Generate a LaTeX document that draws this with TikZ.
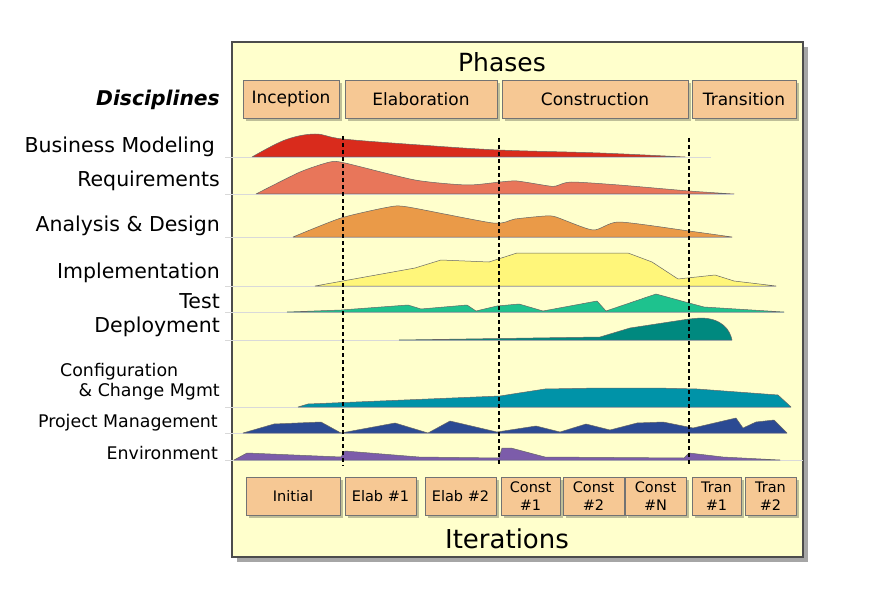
\documentclass[tikz,border=0pt]{standalone}
\usepackage{fontspec}
\setmainfont{DejaVu Sans}
\usetikzlibrary{shadows}
\definecolor{paneyellow}{HTML}{FFFFCC}
\definecolor{boxpeach}{HTML}{F6C894}
\definecolor{bmred}{HTML}{D92B1C}
\definecolor{reqsalmon}{HTML}{E8765A}
\definecolor{adorange}{HTML}{EA9A48}
\definecolor{implyellow}{HTML}{FFF67A}
\definecolor{testgreen}{HTML}{1EC28E}
\definecolor{deployteal}{HTML}{00897F}
\definecolor{ccmblue}{HTML}{0093A8}
\definecolor{pmblue}{HTML}{2B4A93}
\definecolor{envpurple}{HTML}{7C5CAA}
\begin{document}
\begin{tikzpicture}[x=1pt, y=-1pt,
    every node/.style={inner sep=0pt},
    phasebox/.style={draw=black!55, fill=boxpeach, minimum height=38pt,
        drop shadow={shadow xshift=3pt, shadow yshift=-3pt, fill=black, opacity=.25},
        font=\fontsize{17}{20}\selectfont},
    iterbox/.style={phasebox, align=center, font=\fontsize{14.5}{18.5}\selectfont},
    discipline/.style={anchor=east, font=\fontsize{20.5}{24}\selectfont},
    smalldisc/.style={discipline, font=\fontsize{17.4}{20}\selectfont},
    hump/.style={draw=black!60, line width=0.5pt, line join=round},
    trackline/.style={black!15, line width=0.8pt},
    milestone/.style={line width=2.2pt, dash pattern=on 4pt off 3pt},
]
    \useasboundingbox (0,0) rectangle (872,604);

    % Chart frame
    \draw[black!70, line width=1.2pt, fill=paneyellow,
        drop shadow={shadow xshift=5pt, shadow yshift=-5pt, fill=black, opacity=.35}]
        (232,42) rectangle (803,557);
    \node[font=\fontsize{25}{28}\selectfont] (phases) at (502,62) {Phases};
    \node[font=\fontsize{26}{30}\selectfont] (iterations) at (507,539) {Iterations};

    % Phases
    \node[phasebox, minimum width=96pt] (inception) at (291,99) {Inception};
    \node[phasebox, minimum width=152pt] (elaboration) at (421,99) {Elaboration};
    \node[phasebox, minimum width=186pt] (construction) at (595,99) {Construction};
    \node[phasebox, minimum width=104pt] (transition) at (744,99) {Transition};

    % Disciplines
    \node[discipline, font=\fontsize{20.3}{24}\selectfont\bfseries\itshape] (disc) at (220,100) {Disciplines};
    \node[discipline] (bm) at (215,147) {Business Modeling};
    \node[discipline] (req) at (220,181) {Requirements};
    \node[discipline] (ad) at (220,226) {Analysis \& Design};
    \node[discipline] (impl) at (220,273) {Implementation};
    \node[discipline] (test) at (220,301) {Test};
    \node[discipline] (deploy) at (220,327) {Deployment};
    \node[smalldisc, anchor=west] (ccma) at (60,372) {Configuration};
    \node[smalldisc] (ccmb) at (220,392) {\& Change Mgmt};
    \node[smalldisc] (pm) at (218,423) {Project Management};
    \node[smalldisc] (env) at (218,453) {Environment};

    % Business Modeling
    \draw[trackline] (225,157) -- (711,157);
    \filldraw[hump, fill=bmred] plot[smooth, tension=.6] coordinates {(252,157) (285,140) (315,134) (343,139) (420,145) (499,150) (600,153) (685,157)} -- cycle;
    % Requirements
    \draw[trackline] (225,194) -- (734,194);
    \filldraw[hump, fill=reqsalmon] plot[smooth, tension=.4] coordinates {(256,194) (300,172) (330,162) (345,163) (415,180) (467,185) (500,182) (517,181) (549,186) (556,186) (571,182) (619,185) (689,191) (734,194)} -- cycle;
    % Analysis & Design
    \draw[trackline] (225,237) -- (732,237);
    \filldraw[hump, fill=adorange] plot[smooth, tension=.4] coordinates {(293,237) (341,218) (389,207) (408,207) (493,223) (515,219) (545,216) (556,217) (593,230) (619,222) (689,231) (732,237)} -- cycle;
    % Implementation
    \draw[trackline] (225,286) -- (776,286);
    \filldraw[hump, fill=implyellow] (315,286) -- (415,268) -- (441,260) -- (489,262) -- (517,253) -- (628,253) -- (652,262) -- (678,279) -- (715,275) -- (734,281) -- (776,286) -- cycle;
    % Test
    \draw[trackline] (225,312) -- (784,312);
    \filldraw[hump, fill=testgreen] (287,312) -- (341,310) -- (408,305) -- (421,309) -- (467,305) -- (476,311) -- (497,306) -- (519,304) -- (543,311) -- (597,301) -- (606,311) -- (656,294) -- (689,303) -- (704,307) -- (784,312) -- cycle;
    % Deployment
    \draw[trackline] (225,340) -- (732,340);
    \filldraw[hump, fill=deployteal] (399,340) -- (600,337) -- (630,328) -- (689,319) -- (700,318) .. controls (722,318) and (730,330) .. (732,340) -- cycle;
    % Configuration & Change Mgmt
    \draw[trackline] (225,407) -- (791,407);
    \filldraw[hump, fill=ccmblue] (298,407) -- (308,404) -- (500,396) -- (519,393) -- (545,389) -- (600,388) -- (656,388) -- (697,389) -- (778,395) -- (791,407) -- cycle;
    % Project Management
    \draw[trackline] (225,433) -- (787,433);
    \filldraw[hump, fill=pmblue] (243,433) -- (274,424) -- (321,422) -- (341,433) -- (395,423) -- (428,433) -- (450,421) -- (497,432) -- (536,426) -- (560,432) -- (586,424) -- (610,430) -- (637,423) -- (663,422) -- (693,428) -- (736,418) -- (743,428) -- (756,422) -- (774,420) -- (787,433) -- cycle;
    % Environment
    \draw[trackline] (225,460) -- (803,460);
    \filldraw[hump, fill=envpurple] (234,460) -- (247,453) -- (341,457) -- (345,451) -- (419,457) -- (499,458) -- (502,448) -- (511,448) -- (545,457) -- (684,458) -- (689,453) -- (723,457) -- (780,460) -- cycle;

    % Milestones
    \draw[milestone] (343,136) -- (343,466);
    \draw[milestone] (499,138) -- (499,466);
    \draw[milestone] (689,138) -- (689,466);

    % Iterations
    \node[iterbox, minimum width=94pt] (initial) at (293,496) {Initial};
    \node[iterbox, minimum width=71pt] (elab1) at (380.5,496) {Elab \#1};
    \node[iterbox, minimum width=71pt] (elab2) at (460.5,496) {Elab \#2};
    \node[iterbox, minimum width=59pt] (const1) at (530.5,496) {Const\\\#1};
    \node[iterbox, minimum width=61pt] (const2) at (593.5,496) {Const\\\#2};
    \node[iterbox, minimum width=61pt] (constn) at (655.5,496) {Const\\\#N};
    \node[iterbox, minimum width=49pt] (tran1) at (716.5,496) {Tran\\\#1};
    \node[iterbox, minimum width=51pt] (tran2) at (770.5,496) {Tran\\\#2};
\end{tikzpicture}
\end{document}
